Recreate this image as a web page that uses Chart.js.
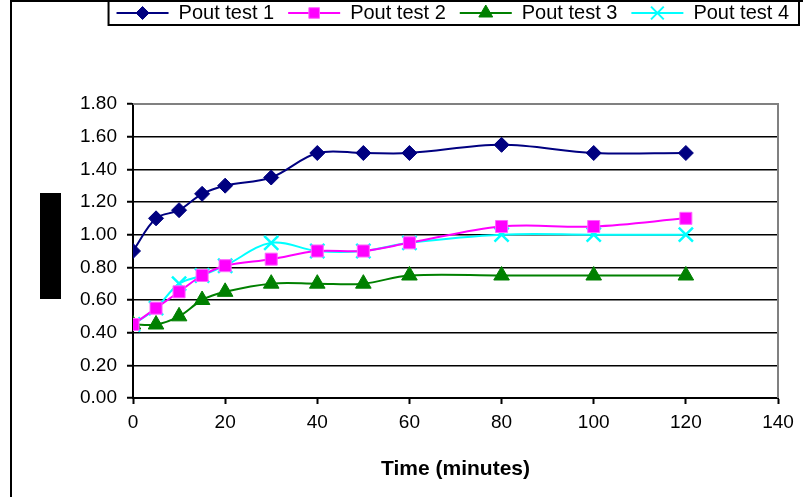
<!DOCTYPE html>
<html>
<head>
<meta charset="utf-8">
<script src="https://cdn.jsdelivr.net/npm/chart.js@4"></script>
<style>
  html, body { margin: 0; padding: 0; background: #fff; }
  #wrap { width: 803px; height: 497px; position: relative; }
</style>
</head>
<body>
<div id="wrap"><canvas id="chart"></canvas></div>
<script>
const times = [0, 5, 10, 15, 20, 30, 40, 50, 60, 80, 100, 120];
const test1 = [0.90, 1.10, 1.15, 1.25, 1.30, 1.35, 1.50, 1.50, 1.50, 1.55, 1.50, 1.50];
const test2 = [0.45, 0.55, 0.65, 0.75, 0.81, 0.85, 0.90, 0.90, 0.95, 1.05, 1.05, 1.10];
const test3 = [0.45, 0.45, 0.50, 0.60, 0.65, 0.70, 0.70, 0.70, 0.75, 0.75, 0.75, 0.75];
const test4 = [0.45, 0.55, 0.70, 0.75, 0.81, 0.95, 0.90, 0.90, 0.95, 1.00, 1.00, 1.00];
const seriesNames = ["Pout test 1", "Pout test 2", "Pout test 3", "Pout test 4"];
const xTicks = [0, 20, 40, 60, 80, 100, 120, 140];
const yTicks = [0, 0.2, 0.4, 0.6, 0.8, 1.0, 1.2, 1.4, 1.6, 1.8];

Chart.defaults.font.family = "'Liberation Sans', Arial, sans-serif";
Chart.defaults.font.size = 19;
Chart.defaults.color = "#000";

function toPoints(ys) {
    return times.map((t, i) => ({ x: t, y: ys[i] }));
}

const styles = [
    { color: "#000080", fill: "#000080", point: "rectRot", radius: 7.5 },
    { color: "#FF66FF", fill: "#FF00FF", point: "rect", radius: 8.5 },
    { color: "#008000", fill: "#008000", point: "triangle", radius: 9 },
    { color: "#00FFFF", fill: "#00FFFF", point: "crossRot", radius: 10 }
];

const datasets = [test1, test2, test3, test4].map((ys, i) => ({
    label: seriesNames[i],
    data: toPoints(ys),
    borderColor: i === 1 ? "#FF00FF" : styles[i].color,
    backgroundColor: styles[i].fill,
    borderWidth: 2,
    pointStyle: styles[i].point,
    pointRadius: styles[i].radius,
    pointBorderColor: styles[i].color,
    pointBackgroundColor: styles[i].fill,
    pointBorderWidth: i === 3 ? 2.5 : 1,
    tension: 0.35
}));

// extra space under the legend
const legendSpacer = {
    id: "legendSpacer",
    beforeInit(chart) {
        const fit = chart.legend.fit;
        chart.legend.fit = function () {
            fit.bind(chart.legend)();
            this.height += 71;
        };
    }
};

// frame, legend box, markers in legend, plot border
const decor = {
    id: "decor",
    beforeDraw(chart) {
        const ctx = chart.ctx;
        ctx.save();
        ctx.fillStyle = "#fff";
        ctx.fillRect(0, 0, chart.width, chart.height);
        ctx.strokeStyle = "#000";
        ctx.lineWidth = 2;
        ctx.strokeRect(11, 1, chart.width + 20, chart.height + 20);
        ctx.restore();
    },
    afterDraw(chart) {
        const ctx = chart.ctx;
        const a = chart.chartArea;
        ctx.save();
        // grey top/right plot border
        ctx.strokeStyle = "#808080";
        ctx.lineWidth = 2;
        ctx.beginPath();
        ctx.moveTo(a.left, a.top);
        ctx.lineTo(a.right, a.top);
        ctx.lineTo(a.right, a.bottom);
        ctx.stroke();
        // hidden axis title block
        ctx.fillStyle = "#000";
        ctx.fillRect(40, 193, 21, 106);
        // legend markers and frame
        const lg = chart.legend;
        const boxes = lg.legendHitBoxes;
        if (boxes && boxes.length) {
            const bw = lg.options.labels.boxWidth;
            boxes.forEach((b, i) => {
                const cx = b.left + bw / 2;
                const cy = b.top + b.height / 2;
                const st = styles[i];
                ctx.strokeStyle = st.color;
                ctx.fillStyle = st.fill;
                ctx.lineWidth = i === 3 ? 2 : 1;
                Chart.helpers.drawPoint(ctx, { pointStyle: st.point, radius: st.radius - 1, rotation: 0, borderWidth: ctx.lineWidth }, cx, cy);
            });
            const first = boxes[0], last = boxes[boxes.length - 1];
            ctx.strokeStyle = "#000";
            ctx.lineWidth = 2;
            ctx.strokeRect(first.left - 8, first.top - 2, last.left + last.width - first.left + 18, first.height + 4);
        }
        ctx.restore();
    }
};

new Chart(document.getElementById("chart"), {
    type: "line",
    data: { datasets },
    plugins: [legendSpacer, decor],
    options: {
        responsive: true,
        maintainAspectRatio: false,
        animation: false,
        layout: { padding: { top: -11, right: 0, bottom: 11, left: 0 } },
        plugins: {
            legend: {
                position: "top",
                align: "end",
                labels: {
                    boxWidth: 52,
                    boxHeight: 2,
                    padding: 14,
                    font: { size: 20 },
                    generateLabels(chart) {
                        return chart.data.datasets.map((ds, i) => ({
                            text: ds.label,
                            fillStyle: ds.borderColor,
                            strokeStyle: ds.borderColor,
                            lineWidth: 0,
                            datasetIndex: i
                        }));
                    }
                }
            },
            tooltip: { enabled: false }
        },
        scales: {
            x: {
                type: "linear",
                min: 0,
                max: 140,
                afterBuildTicks(scale) { scale.ticks = xTicks.map(v => ({ value: v })); },
                grid: { drawOnChartArea: false, drawTicks: true, tickLength: 6, color: "#000", tickWidth: 2 },
                border: { color: "#000", width: 2 },
                ticks: { padding: 7 },
                title: { display: true, text: "Time (minutes)", font: { size: 21, weight: "bold" }, padding: { top: 16 } }
            },
            y: {
                min: 0,
                max: 1.8,
                afterBuildTicks(scale) { scale.ticks = yTicks.map(v => ({ value: v })); },
                afterFit(scale) { scale.width = 133; },
                grid: { color: "#000", lineWidth: 1.5, tickLength: 6, tickWidth: 2, tickColor: "#000" },
                border: { color: "#000", width: 2 },
                ticks: { padding: 10, callback: v => v.toFixed(2) }
            },
            yRight: {
                position: "right",
                min: 0,
                max: 1.8,
                afterFit(scale) { scale.width = 25; },
                grid: { display: false },
                border: { display: false },
                ticks: { display: false }
            }
        }
    }
});
</script>
</body>
</html>
